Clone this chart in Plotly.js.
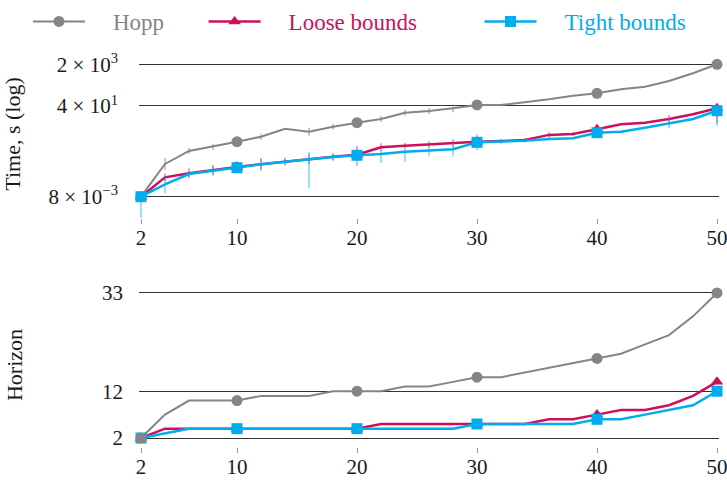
<!DOCTYPE html>
<html>
<head>
<meta charset="utf-8">
<script src="https://cdn.plot.ly/plotly-3.0.1.min.js"></script>
<style>html,body{margin:0;padding:0;background:#fff;}#chart{width:727px;height:480px;}</style>
</head>
<body>
<div id="chart"></div>
<script>
// ---------- data ----------
const steps = [2,4,6,8,10,12,14,16,18,20,22,24,26,28,30,32,34,36,38,40,42,44,46,48,50];
const markerSteps = [2,10,20,30,40,50];
const xTicks = [2,10,20,30,40,50];

// time in seconds (log axis)
const timeHopp  = [0.008,0.173,0.585,0.875,1.40,2.24,4.74,3.57,5.71,8.32,11.8,21.3,24.9,32.1,43.9,43.9,56.5,74.8,105,131,191,244,417,859,2000];
const timeLoose = [0.008,0.0494,0.0720,0.0982,0.130,0.168,0.214,0.275,0.342,0.413,0.826,0.962,1.10,1.20,1.40,1.49,1.64,2.65,2.89,4.50,7.16,8.32,11.8,18.3,32.1];
const timeTight = [0.008,0.0256,0.0675,0.0918,0.122,0.168,0.214,0.275,0.333,0.390,0.441,0.547,0.601,0.685,1.32,1.40,1.53,1.80,1.94,3.26,3.58,5.20,7.87,11.8,25.6];

const errHoppPlus   = [0,0.131,0.190,0.284,0.455,0.728,0,1.63,1.86,2.70,3.84,6.92,8.09,14.6,14.3,0,0,0,0,0,0,0,0,0,0];
const errHoppMinus  = [0,0.0746,0.143,0.214,0.343,0.549,0,1.12,1.40,2.04,2.89,5.22,6.10,10.0,10.8,0,0,0,0,0,0,0,0,0,0];
const errLoosePlus  = [0.0026,0.0225,0.0431,0.0588,0.0984,0.127,0.0976,0.165,0.111,0.549,0.377,0.313,0.358,0.547,0.455,0.307,0.338,0.861,0.595,1.46,0,0,5.38,0,10.4];
const errLooseMinus = [0.0020,0.0155,0.027,0.0368,0.056,0.0724,0.067,0.103,0.0838,0.266,0.259,0.236,0.27,0.376,0.343,0.255,0.28,0.649,0.494,1.10,0,0,3.69,0,24.2];
const errTightPlus  = [0.0026,0.034,0.0219,0.055,0.0556,0.127,0.0696,0.256,0.152,0.127,0.201,0.178,0.36,0.637,1.48,0.288,0.315,0,0,1.06,0,0,4.71,0,8.32];
const errTightMinus = [0.0069,0.0146,0.0165,0.0344,0.0382,0.0724,0.0524,0.257,0.104,0.0956,0.252,0.334,0.225,0.33,0.697,0.239,0.262,0,0,0.80,0,0,2.95,0,19.3];

// planning horizon
const horizonHopp  = [2,7,10,10,10,11,11,11,12,12,12,13,13,14,15,15,16,17,18,19,20,22,24,28,33];
const horizonLoose = [2,4,4,4,4,4,4,4,4,4,5,5,5,5,5,5,5,6,6,7,8,8,9,11,14];
const horizonTight = [2,3,4,4,4,4,4,4,4,4,4,4,4,4,5,5,5,5,5,6,6,7,8,9,12];

const timeTickVals = [0.008, 40, 2000];
const timeTickText = ['8 × 10<sup>−3</sup>', '4 × 10<sup>1</sup>', '2 × 10<sup>3</sup>'];
const horizonTickVals = [2, 12, 33];

const seriesNames = ['Hopp', 'Loose bounds', 'Tight bounds'];

// ---------- styles ----------
const cHopp = '#858585', cLoose = '#cc0f5e', cTight = '#00adee';
const FONT = 'Liberation Serif, Times New Roman, serif';
const NB = '\u00a0';

function pick(arr) { return markerSteps.map(s => arr[steps.indexOf(s)]); }

function lineTrace(y, color, w, xa, ya, errP, errM, errColor) {
  const t = {x: steps, y: y, mode: 'lines', type: 'scatter', xaxis: xa, yaxis: ya,
    line: {color: color, width: w}, showlegend: false, cliponaxis: false, hoverinfo: 'skip'};
  if (errP) t.error_y = {type: 'data', symmetric: false, array: errP, arrayminus: errM,
    color: errColor, thickness: 1.3, width: 0};
  return t;
}
function markerTrace(y, color, symbol, xa, ya) {
  return {x: markerSteps, y: pick(y), mode: 'markers', type: 'scatter', xaxis: xa, yaxis: ya,
    marker: {color: color, size: 11, symbol: symbol}, showlegend: false, cliponaxis: false, hoverinfo: 'skip'};
}
function legendTrace(label, color, w, symbol, lead, trail) {
  return {x: [null], y: [null], mode: 'lines+markers', type: 'scatter',
    name: '<span style="color:' + color + '">' + NB.repeat(lead) + label + NB.repeat(trail) + '</span>',
    line: {color: color, width: w}, marker: {color: color, size: 11, symbol: symbol}, showlegend: true};
}

const traces = [
  // top: time
  lineTrace(timeHopp, cHopp, 2, 'x', 'y', errHoppPlus, errHoppMinus, 'rgba(133,133,133,0.7)'),
  lineTrace(timeLoose, cLoose, 2.5, 'x', 'y', errLoosePlus, errLooseMinus, 'rgba(204,15,94,0.55)'),
  lineTrace(timeTight, cTight, 2.5, 'x', 'y', errTightPlus, errTightMinus, 'rgba(0,173,238,0.6)'),
  markerTrace(timeHopp, cHopp, 'circle', 'x', 'y'),
  markerTrace(timeLoose, cLoose, 'triangle-up', 'x', 'y'),
  markerTrace(timeTight, cTight, 'square', 'x', 'y'),
  // bottom: horizon
  lineTrace(horizonLoose, cLoose, 2.5, 'x2', 'y2'),
  lineTrace(horizonTight, cTight, 2.5, 'x2', 'y2'),
  lineTrace(horizonHopp, cHopp, 2, 'x2', 'y2'),
  markerTrace(horizonLoose, cLoose, 'triangle-up', 'x2', 'y2'),
  markerTrace(horizonTight, cTight, 'square', 'x2', 'y2'),
  markerTrace(horizonHopp, cHopp, 'circle', 'x2', 'y2'),
  // legend
  legendTrace(seriesNames[0], cHopp, 2, 'circle', 4, 6),
  legendTrace(seriesNames[1], cLoose, 2.5, 'triangle-up', 4, 10),
  legendTrace(seriesNames[2], cTight, 2.5, 'square', 4, 0)
];

const xBase = {range: [1.8333, 50.1667], tickvals: xTicks, ticks: 'outside', ticklen: 5, tickwidth: 1,
  tickcolor: '#999', showgrid: false, zeroline: false, showline: false, ticklabelstandoff: -4,
  ticklabeloverflow: 'allow',
  tickfont: {family: FONT, size: 21, color: '#1a1a1a'}, fixedrange: true};
const yBase = {showgrid: true, gridcolor: '#333', gridwidth: 1, zeroline: false, showline: false,
  ticks: '', tickfont: {family: FONT, size: 21, color: '#1a1a1a'}, fixedrange: true};

const layout = {
  width: 727, height: 480,
  margin: {l: 139, r: 8, t: 48, b: 0},
  paper_bgcolor: '#fff', plot_bgcolor: '#fff',
  font: {family: FONT, size: 21, color: '#1a1a1a'},
  showlegend: true,
  legend: {orientation: 'h', x: -0.1914, xanchor: 'left', y: 1.1111, yanchor: 'top',
    font: {family: FONT, size: 23}, itemwidth: 52, bgcolor: 'rgba(0,0,0,0)', borderwidth: 0,
    traceorder: 'normal'},
  xaxis: Object.assign({}, xBase, {domain: [0, 1], anchor: 'y'}),
  xaxis2: Object.assign({}, xBase, {domain: [0, 1], anchor: 'y2'}),
  yaxis: Object.assign({}, yBase, {type: 'log', range: [-2.965, 3.884], domain: [0.60648, 0.99537],
    tickvals: timeTickVals, ticktext: timeTickText, ticklabelstandoff: 20,
    title: {text: 'Time, s (log)', font: {family: FONT, size: 22, color: '#1a1a1a'}, standoff: 26}}),
  yaxis2: Object.assign({}, yBase, {range: [0.08, 35.13], domain: [0.07639, 0.45602],
    tickvals: horizonTickVals, ticklabelstandoff: 15,
    title: {text: 'Horizon', font: {family: FONT, size: 22, color: '#1a1a1a'}, standoff: 73}})
};

Plotly.newPlot('chart', traces, layout, {staticPlot: true, displayModeBar: false});
</script>
</body>
</html>
